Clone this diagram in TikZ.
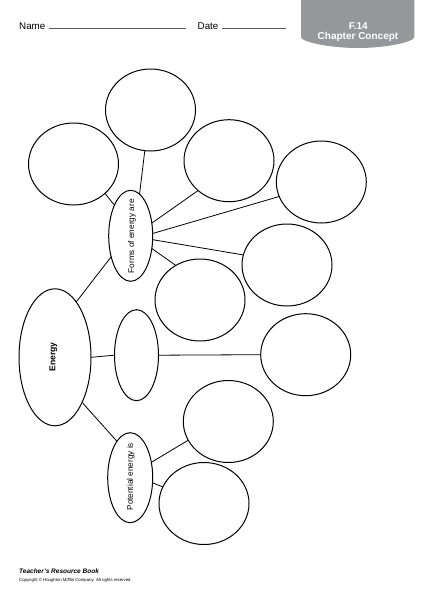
\documentclass[tikz,border=0pt]{standalone}
\usepackage{fontspec}
\setmainfont{Liberation Sans}
\usetikzlibrary{shapes.geometric}
\definecolor{tabgray}{RGB}{150,151,154}
\definecolor{rulegray}{RGB}{90,90,90}
\begin{document}
\begin{tikzpicture}[x=1pt,y=-1pt,
  bubble/.style={ellipse,draw,line width=1pt,inner sep=0pt,outer sep=0pt,minimum width=90pt,minimum height=82pt},
  hub/.style={ellipse,draw,line width=1pt,inner sep=0pt,outer sep=0pt,minimum width=44pt,minimum height=91pt},
  vtext/.style={rotate=90,inner sep=0pt,font=\fontsize{8.2}{9}\selectfont},
  link/.style={line width=0.8pt},
  hdr/.style={anchor=base west,inner sep=0pt,font=\fontsize{9.8}{11}\selectfont},
  tabtext/.style={text=white,inner sep=0pt,font=\bfseries\fontsize{10}{11}\selectfont}]
\useasboundingbox (0,0) rectangle (431,600);

% header
\node[hdr] (name) at (19,29) {Name};
\coordinate (nameend) at (186,28);
\draw[rulegray,line width=0.6pt] (49,28) -- (nameend);
\node[hdr] (date) at (197.5,29) {Date};
\coordinate (dateend) at (286,28);
\draw[rulegray,line width=0.6pt] (222,28) -- (dateend);

\fill[tabgray] (301,0) -- (301,37) .. controls (301,42) and (330,48) .. (358,48)
  .. controls (386,48) and (414.3,42) .. (414.3,37) -- (414.3,0) -- cycle;
\node[tabtext] (tabnum) at (358.3,25.7) {F.14};
\node[tabtext] (tabtitle) at (358,36.5) {Chapter Concept};

% bubbles
\node[bubble] (A) at (150.5,110) {};
\node[bubble] (B) at (73.5,164) {};
\node[bubble] (C) at (229,160.7) {};
\node[bubble] (D) at (321.3,182) {};
\node[bubble] (E) at (287,265) {};
\node[bubble] (F) at (200,300) {};
\node[bubble] (G) at (305.7,354.7) {};
\node[bubble] (H) at (228.3,421.5) {};
\node[bubble] (I) at (204,503.5) {};

\node[hub] (forms) at (130.7,235.8) {};
\node[vtext] (formstext) at (132,236.3) {Forms of energy are};
\node[hub] (mid) at (136.5,355.2) {};
\node[hub,minimum width=45pt,minimum height=90pt] (pot) at (130.2,477.7) {};
\node[vtext] (pottext) at (130.7,476.7) {Potential energy is};
\node[ellipse,draw,line width=1pt,inner sep=0pt,outer sep=0pt,minimum width=72pt,minimum height=137pt] (energy) at (55,357.3) {};
\node[rotate=90,inner sep=0pt,font=\bfseries\fontsize{8.6}{9}\selectfont] (energytext) at (53.3,357) {Energy};

% connectors
\draw[link] (A.262) -- (forms.78);
\draw[link] (B.-43) -- (forms.118);
\draw[link] (C.224) -- (forms.31);
\draw[link] (D.199.6) -- (forms.6);
\draw[link] (E.167) -- (forms.-10.5);
\draw[link] (F.125.6) -- (forms.-31);
\draw[link] (energy.69) -- (forms.227);
\draw[link] (energy.east) -- (mid.west);
\draw[link] (mid.east) -- (G.west);
\draw[link] (energy.-59) -- (pot.110);
\draw[link] (pot.36) -- (H.205);
\draw[link] (pot.-13) -- (I.158);

% footer
\node[anchor=base west,inner sep=0pt,font=\bfseries\itshape\fontsize{6.5}{7}\selectfont] (book) at (19,573) {Teacher's Resource Book};
\node[anchor=base west,inner sep=0pt,font=\fontsize{4.3}{5}\selectfont] (copy) at (19,581.5) {Copyright © Houghton Mifflin Company. All rights reserved.};
\end{tikzpicture}
\end{document}
